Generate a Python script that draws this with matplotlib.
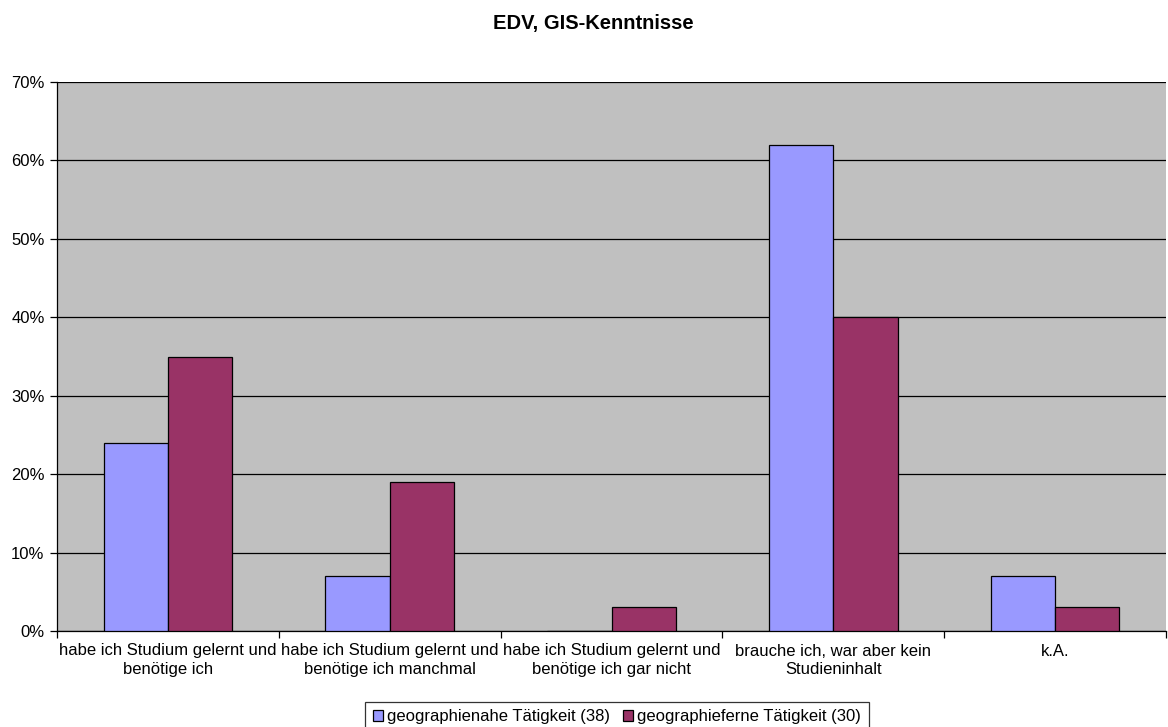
import matplotlib.pyplot as plt
from matplotlib.ticker import MultipleLocator, FuncFormatter
import numpy as np

plt.rcParams['font.family'] = ['Liberation Sans', 'DejaVu Sans']

categories = ['habe ich Studium gelernt und\nbenötige ich',
              'habe ich Studium gelernt und\nbenötige ich manchmal',
              'habe ich Studium gelernt und\nbenötige ich gar nicht',
              'brauche ich, war aber kein\nStudieninhalt',
              'k.A.']
nahe = [24, 7, 0, 62, 7]
ferne = [35, 19, 3, 40, 3]
series_labels = ['geographienahe Tätigkeit (38)', 'geographieferne Tätigkeit (30)']

W, H = 1168, 727
fig = plt.figure(figsize=(W/100, H/100), dpi=100)
ax = fig.add_axes([57/W, 1 - 631/H, (1166-57)/W, (631-82)/H])
ax.set_facecolor('#C0C0C0')

x = np.arange(len(categories))
w = 0.29
ax.bar(x - w/2, nahe, w, color='#9999FF', edgecolor='black', linewidth=0.9,
       label=series_labels[0], zorder=3)
ax.bar(x + w/2, ferne, w, color='#993366', edgecolor='black', linewidth=0.9,
       label=series_labels[1], zorder=3)

ax.set_xlim(-0.5, len(categories) - 0.5)
ax.set_ylim(0, 70)
ax.yaxis.set_major_locator(MultipleLocator(10))
ax.yaxis.set_major_formatter(FuncFormatter(lambda v, p: '%d%%' % v))
ax.yaxis.grid(True, color='black', linewidth=0.9, zorder=1)

# category boundaries get the ticks, names sit in between
ax.set_xticks(np.arange(len(categories) + 1) - 0.5)
ax.set_xticklabels([])
ax.set_xticks(x, minor=True)
ax.set_xticklabels(categories, minor=True, fontsize=12, linespacing=1.3)
ax.tick_params(axis='x', which='minor', length=0, pad=9)
ax.tick_params(axis='x', which='major', length=5, direction='out', width=0.9)
ax.tick_params(axis='y', length=5, direction='out', width=0.9, labelsize=12, pad=4)

for s in ['top', 'right']:
    ax.spines[s].set_visible(False)
for s in ['left', 'bottom']:
    ax.spines[s].set_linewidth(0.9)

fig.text(593/W, 1 - 23/H, 'EDV, GIS-Kenntnisse', fontsize=14.5, fontweight='bold',
         ha='center', va='center')

leg = fig.legend(loc='upper center', bbox_to_anchor=(617/W, 1 - 702/H), ncol=2,
                 fontsize=12, frameon=True, fancybox=False, edgecolor='black',
                 handlelength=0.6, handleheight=0.6, handletextpad=0.25,
                 columnspacing=0.8, borderpad=0.45, borderaxespad=0)
leg.get_frame().set_linewidth(0.9)

fig.savefig('out.png', dpi=100)
